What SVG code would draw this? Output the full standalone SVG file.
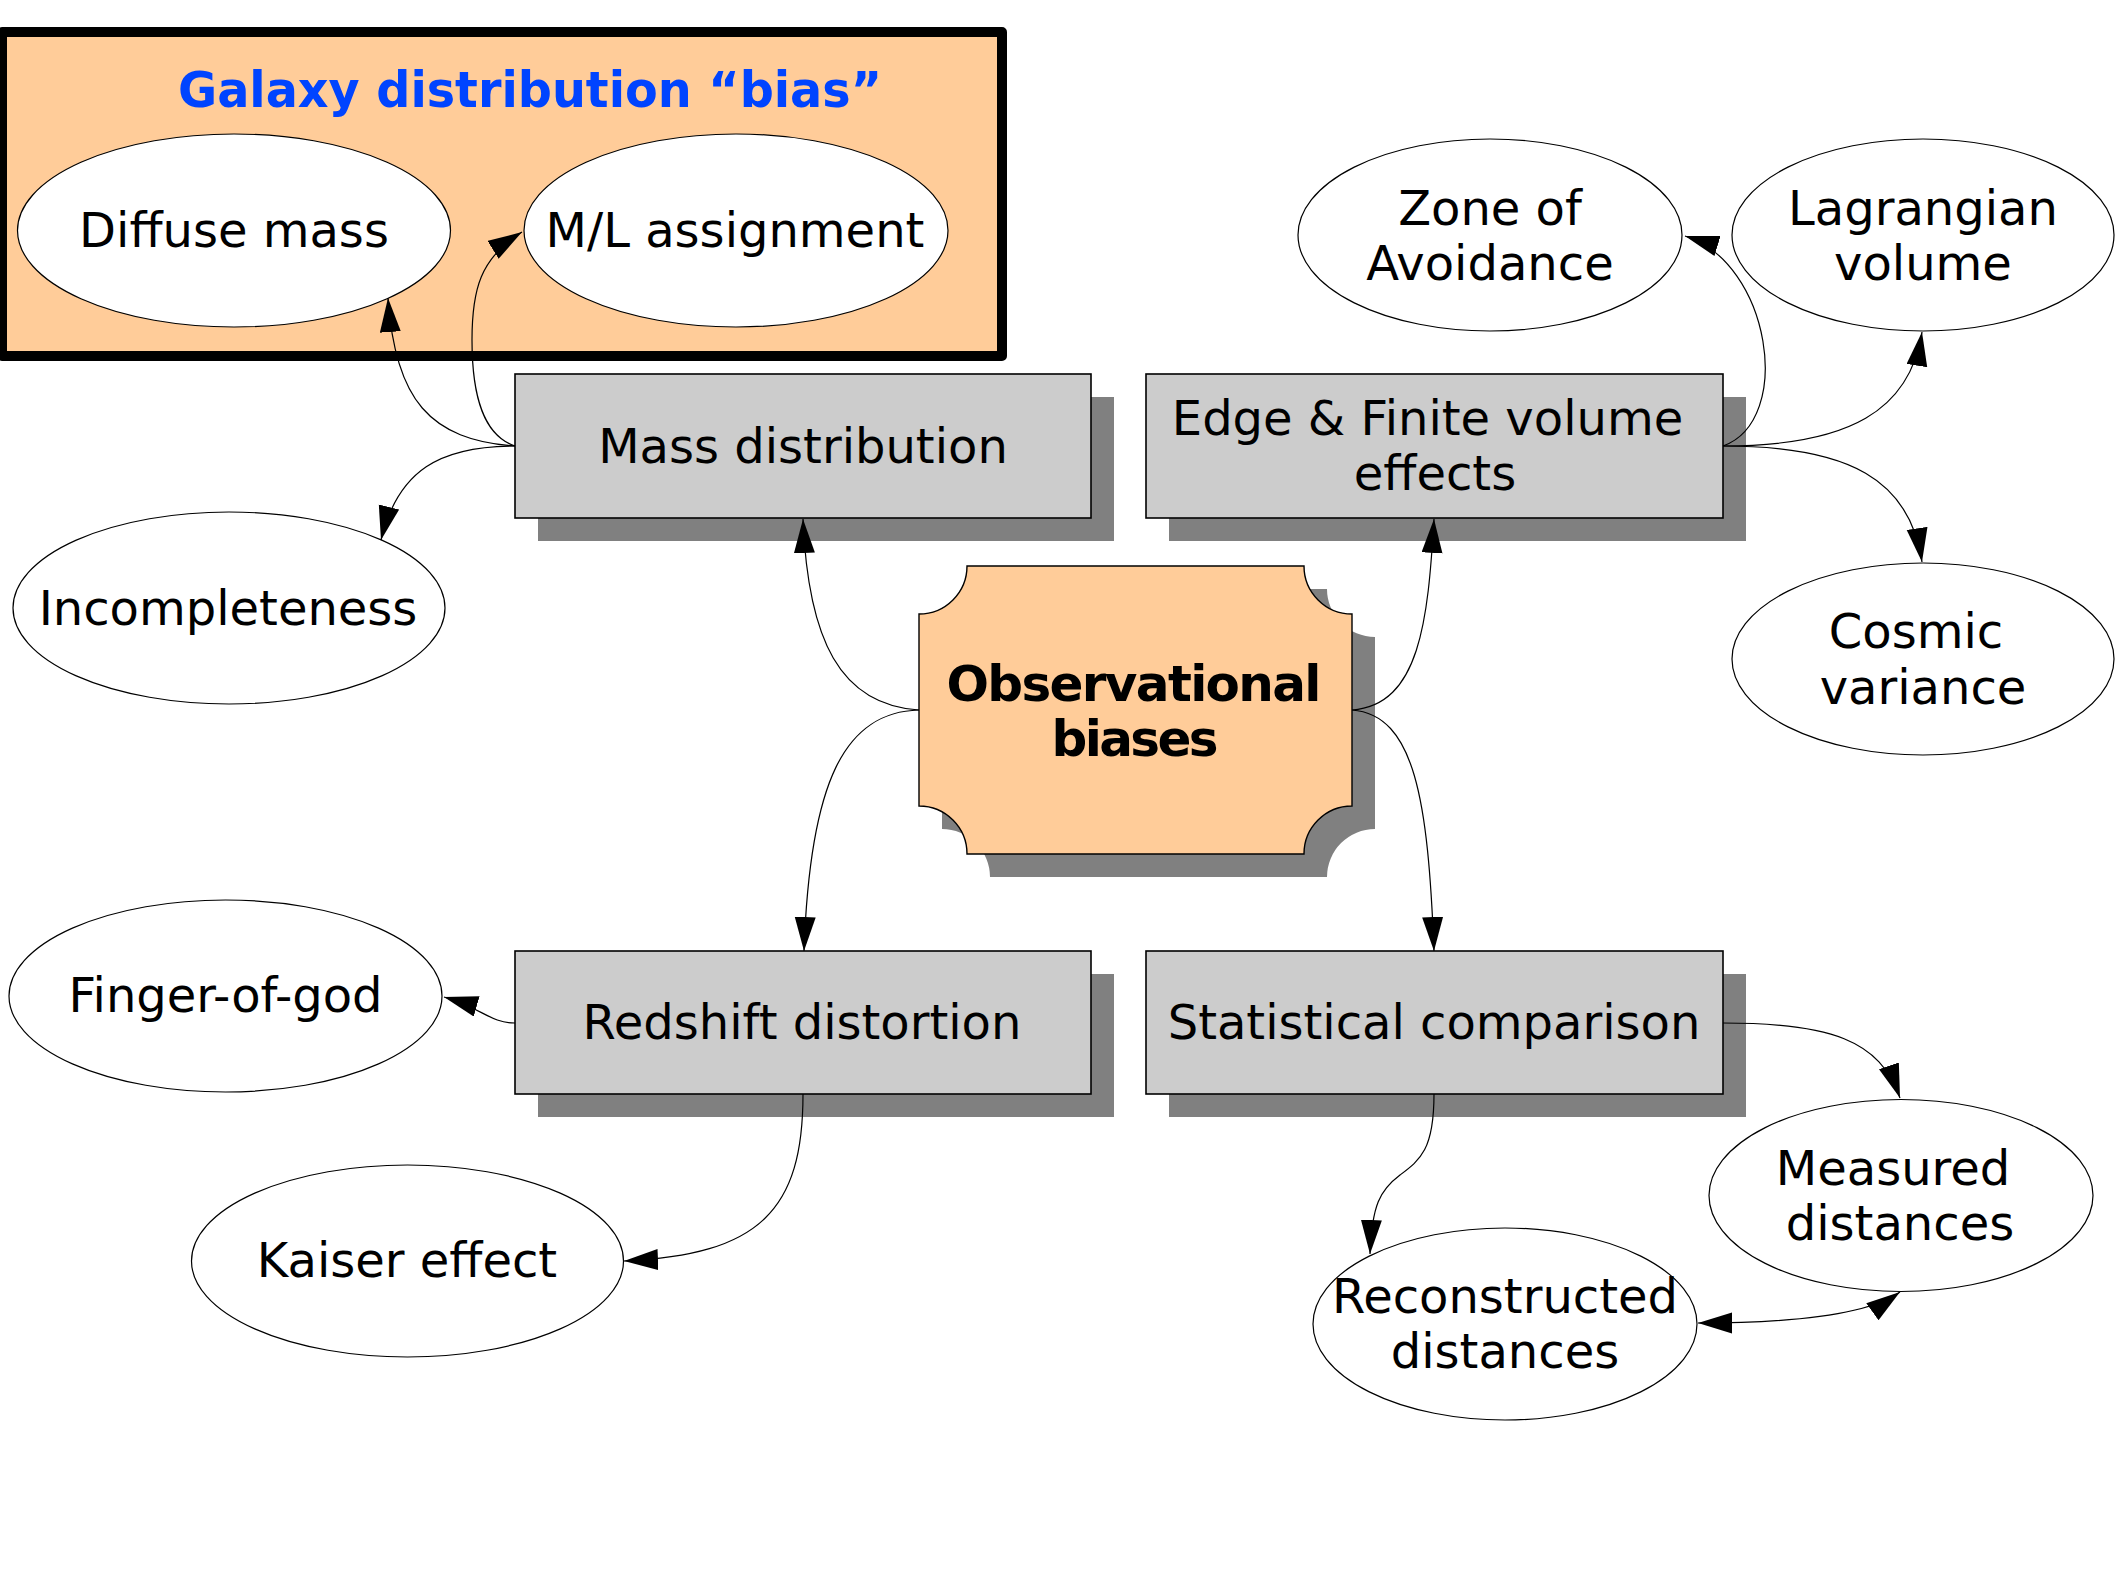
<svg xmlns="http://www.w3.org/2000/svg" width="2115" height="1587" viewBox="0 0 2115 1587">
  <defs>
    <style>
      .lbl { font-family: "DejaVu Sans", "Liberation Sans", sans-serif; font-size: 48px; fill: #000; text-anchor: middle; }
      .bold { font-family: "DejaVu Sans", "Liberation Sans", sans-serif; font-weight: bold; font-size: 50px; }
      .oval { fill: #ffffff; stroke: #000; stroke-width: 1.2; }
      .box { fill: #cccccc; stroke: #000; stroke-width: 1.6; }
      .shadow { fill: #808080; }
      .edge { fill: none; stroke: #000; stroke-width: 1.2; marker-end: url(#arrow); }
    </style>
    <marker id="arrow" markerUnits="userSpaceOnUse" markerWidth="36" markerHeight="24" refX="34" refY="10.5" orient="auto">
      <path d="M0,0 L34,10.5 L0,21 z" fill="#000"/>
    </marker>
    <marker id="arrowStart" markerUnits="userSpaceOnUse" markerWidth="36" markerHeight="24" refX="34" refY="10.5" orient="auto-start-reverse">
      <path d="M0,0 L34,10.5 L0,21 z" fill="#000"/>
    </marker>
  </defs>

  <rect width="2115" height="1587" fill="#ffffff"/>

  <!-- Galaxy distribution "bias" group -->
  <g id="group-bias">
    <rect x="2" y="32" width="1000" height="324" fill="#ffcc99" stroke="#000" stroke-width="10" stroke-linejoin="round"/>
    <text class="bold" x="178" y="107" fill="#0044ff" textLength="704" lengthAdjust="spacingAndGlyphs">Galaxy distribution “bias”</text>
  </g>

  <g id="node-diffuse-mass">
    <ellipse class="oval" cx="234" cy="230.5" rx="216.5" ry="96.5"/>
    <text class="lbl" x="234" y="247">Diffuse mass</text>
  </g>

  <g id="node-ml-assignment">
    <ellipse class="oval" cx="736" cy="230.5" rx="212" ry="96.5"/>
    <text class="lbl" x="735" y="247">M/L assignment</text>
  </g>

  <g id="node-mass-distribution">
    <rect class="shadow" x="538" y="397" width="576" height="144"/>
    <rect class="box" x="515" y="374" width="576" height="144"/>
    <text class="lbl" x="803" y="463">Mass distribution</text>
  </g>

  <g id="node-edge-finite">
    <rect class="shadow" x="1169" y="397" width="577" height="144"/>
    <rect class="box" x="1146" y="374" width="577" height="144"/>
    <text class="lbl" x="1427.5" y="435">Edge &amp; Finite volume</text>
    <text class="lbl" x="1435" y="490">effects</text>
  </g>

  <g id="node-incompleteness">
    <ellipse class="oval" cx="229" cy="608" rx="216" ry="96"/>
    <text class="lbl" x="228" y="625">Incompleteness</text>
  </g>

  <g id="node-zone-of-avoidance">
    <ellipse class="oval" cx="1490" cy="235" rx="192" ry="96"/>
    <text class="lbl" x="1490" y="225">Zone of</text>
    <text class="lbl" x="1490" y="280">Avoidance</text>
  </g>

  <g id="node-lagrangian-volume">
    <ellipse class="oval" cx="1923" cy="235" rx="191" ry="96"/>
    <text class="lbl" x="1923" y="225">Lagrangian</text>
    <text class="lbl" x="1923" y="280">volume</text>
  </g>

  <g id="node-cosmic-variance">
    <ellipse class="oval" cx="1923" cy="659" rx="191" ry="96"/>
    <text class="lbl" x="1916" y="648">Cosmic</text>
    <text class="lbl" x="1923" y="704">variance</text>
  </g>

  <g id="node-observational-biases">
    <path class="shadow" d="M990,589 L1327,589 A48,48 0 0 0 1375,637 L1375,829 A48,48 0 0 0 1327,877 L990,877 A48,48 0 0 0 942,829 L942,637 A48,48 0 0 0 990,589 Z"/>
    <path d="M967,566 L1304,566 A48,48 0 0 0 1352,614 L1352,806 A48,48 0 0 0 1304,854 L967,854 A48,48 0 0 0 919,806 L919,614 A48,48 0 0 0 967,566 Z" fill="#ffcc99" stroke="#000" stroke-width="1.4"/>
    <text class="bold" x="1134" y="701" text-anchor="middle" textLength="375" lengthAdjust="spacing">Observational</text>
    <text class="bold" x="1135" y="756" text-anchor="middle" textLength="167" lengthAdjust="spacing">biases</text>
  </g>

  <g id="node-finger-of-god">
    <ellipse class="oval" cx="225.5" cy="996" rx="216.5" ry="96"/>
    <text class="lbl" x="225.5" y="1012">Finger-of-god</text>
  </g>

  <g id="node-redshift-distortion">
    <rect class="shadow" x="538" y="974" width="576" height="143"/>
    <rect class="box" x="515" y="951" width="576" height="143"/>
    <text class="lbl" x="802" y="1039">Redshift distortion</text>
  </g>

  <g id="node-statistical-comparison">
    <rect class="shadow" x="1169" y="974" width="577" height="143"/>
    <rect class="box" x="1146" y="951" width="577" height="143"/>
    <text class="lbl" x="1434" y="1039">Statistical comparison</text>
  </g>

  <g id="node-kaiser-effect">
    <ellipse class="oval" cx="407.5" cy="1261" rx="216" ry="96"/>
    <text class="lbl" x="407" y="1277">Kaiser effect</text>
  </g>

  <g id="node-measured-distances">
    <ellipse class="oval" cx="1901" cy="1195.5" rx="192" ry="96"/>
    <text class="lbl" x="1893" y="1185">Measured</text>
    <text class="lbl" x="1900" y="1240">distances</text>
  </g>

  <g id="node-reconstructed-distances">
    <ellipse class="oval" cx="1505" cy="1324" rx="192" ry="96"/>
    <text class="lbl" x="1505" y="1313">Reconstructed</text>
    <text class="lbl" x="1505" y="1368">distances</text>
  </g>

  <!-- connectors -->
  <g id="connectors">
    <path class="edge" d="M515,446 C430,440 395,400 388,298"/>
    <path class="edge" d="M515,446 C485,436 472,400 472,340 C472,290 480,258 522,232"/>
    <path class="edge" d="M515,446 C440,446 398,470 381,540"/>
    <path class="edge" d="M919,710 C840,705 808,640 803,519"/>
    <path class="edge" d="M919,710 C845,712 810,780 804,951"/>
    <path class="edge" d="M1352,710 C1420,705 1428,620 1434,519"/>
    <path class="edge" d="M1352,710 C1415,715 1428,800 1434,951"/>
    <path class="edge" d="M1723,446 C1795,420 1770,262 1685,236"/>
    <path class="edge" d="M1723,446 C1850,446 1910,410 1922,332"/>
    <path class="edge" d="M1723,446 C1850,446 1910,480 1922,562"/>
    <path class="edge" d="M515,1023 C490,1023 482,1008 444,997"/>
    <path class="edge" d="M803,1094 C803,1210 760,1255 624,1261"/>
    <path class="edge" d="M1723,1023 C1830,1023 1880,1040 1900,1098"/>
    <path class="edge" d="M1434,1094 C1434,1150 1420,1160 1400,1175 C1380,1190 1372,1205 1370,1254"/>
    <path class="edge" style="marker-start: url(#arrowStart)" d="M1698,1323 C1790,1323 1868,1315 1900,1292"/>
  </g>
</svg>
